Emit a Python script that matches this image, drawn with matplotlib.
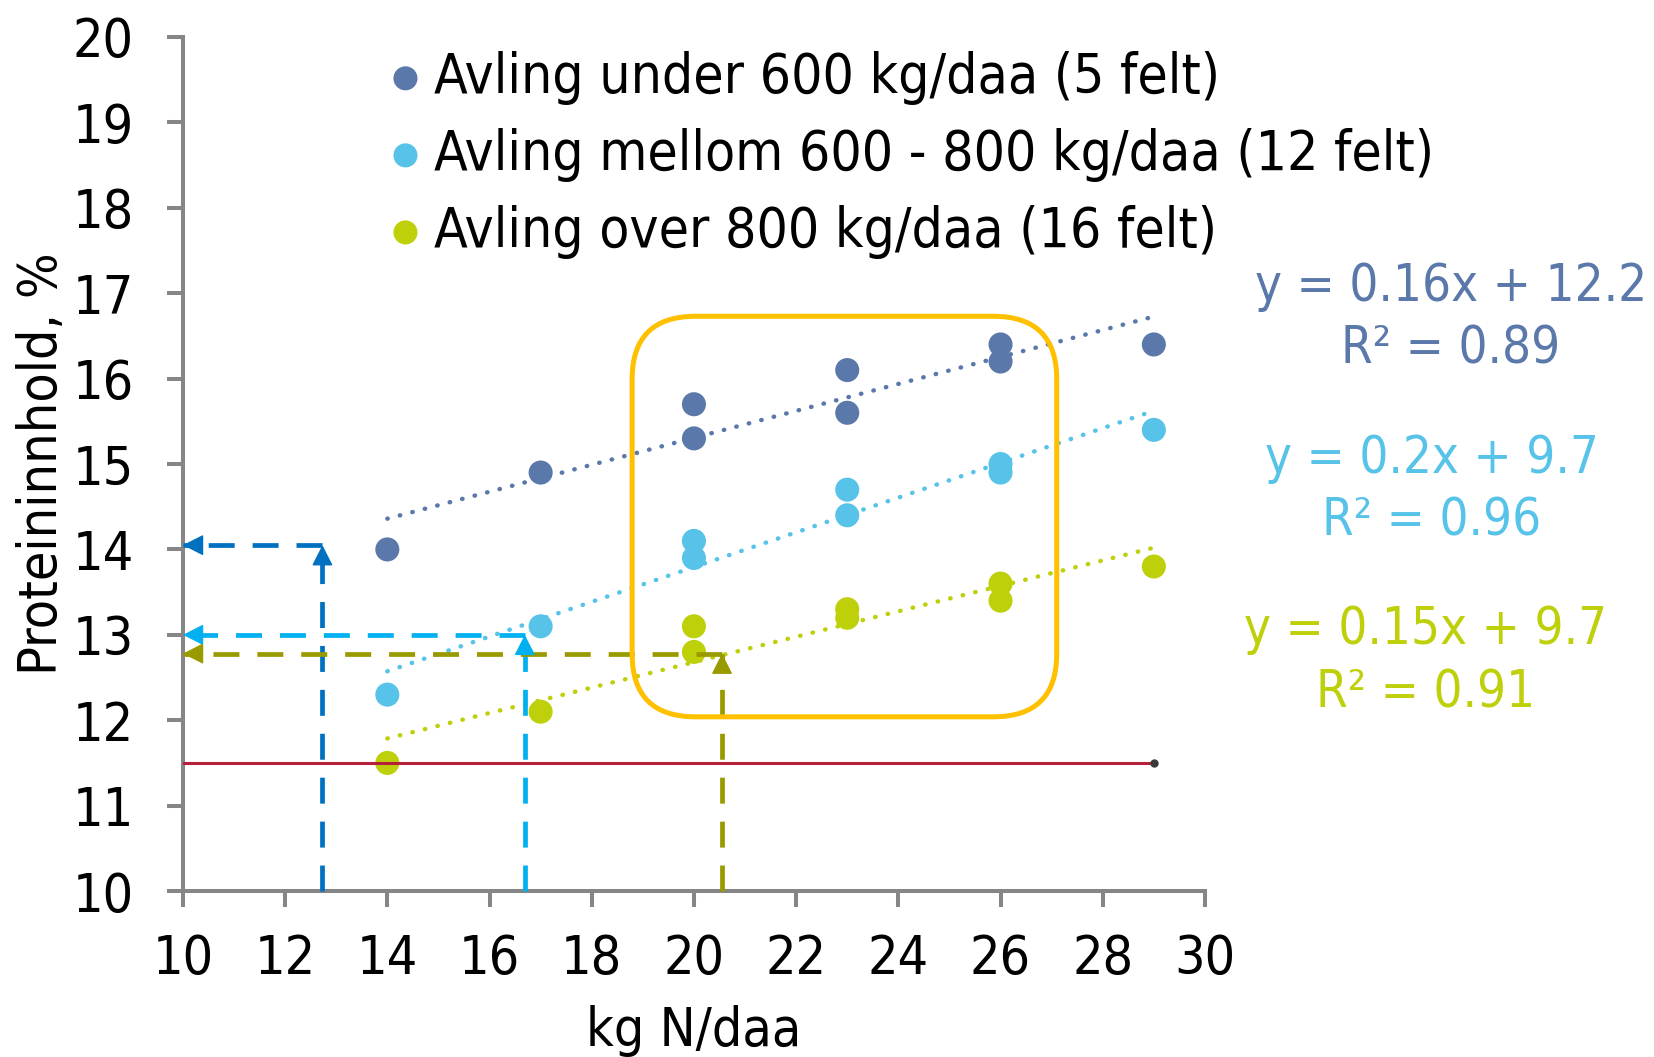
import numpy as np
import matplotlib
matplotlib.use('Agg')
import matplotlib.pyplot as plt
from matplotlib import font_manager
from matplotlib.patches import FancyBboxPatch


# N fertiliser (kg N/daa) and protein content (%) per yield group
x_n = np.array([14, 17, 20, 20, 23, 23, 26, 26, 29])
y_low = np.array([14.0, 14.9, 15.7, 15.3, 16.1, 15.6, 16.4, 16.2, 16.4])
y_mid = np.array([12.3, 13.1, 14.1, 13.9, 14.7, 14.4, 15.0, 14.9, 15.4])
y_high = np.array([11.5, 12.1, 13.1, 12.8, 13.3, 13.2, 13.6, 13.4, 13.8])

labels = ['Avling under 600 kg/daa (5 felt)',
          'Avling mellom 600 - 800 kg/daa (12 felt)',
          'Avling over 800 kg/daa (16 felt)']
equations = ['y = 0.16x + 12.2\nR\u00b2 = 0.89',
             'y = 0.2x + 9.7\nR\u00b2 = 0.96',
             'y = 0.15x + 9.7\nR\u00b2 = 0.91']

# protein limit line
limit_y = 11.5
limit_x = [10, 29]

# read-off arrows: N need for given protein target
arrow_x = [12.73, 16.69, 20.55]
arrow_y = [14.05, 13.0, 12.78]

# highlighted region (x0, x1, y0, y1)
box_x = [18.79, 27.1]
box_y = [12.04, 16.73]

colors = ['#5B78AB', '#57C3E8', '#BED00A']
arrow_colors = ['#0070C0', '#00B0F0', '#999900']


def pick_font():
    # use condensed DejaVu if it exists, it is closest to the original
    for f in font_manager.fontManager.ttflist:
        if f.name == 'DejaVu Sans' and 'ondensed' in str(f.stretch) + f.fname:
            return 'DejaVu Sans', 'condensed', 38.5
    return 'Liberation Sans', 'normal', 39


family, stretch, fs = pick_font()
plt.rcParams['font.family'] = [family, 'DejaVu Sans']
plt.rcParams['font.stretch'] = stretch

fig = plt.figure(figsize=(16.54, 10.57), dpi=100)
ax = fig.add_axes([0.1106, 0.157, 0.6179, 0.808])

series = [y_low, y_mid, y_high]
for y, c, lab in zip(series, colors, labels):
    ax.scatter(x_n, y, s=300, color=c, edgecolors='none', label=lab, zorder=3)

for y, c in zip(series, colors):
    k, m = np.polyfit(x_n, y, 1)
    xs = np.array([x_n.min(), x_n.max()])
    ax.plot(xs, k * xs + m, color=c, lw=3.2, dashes=(0.1, 2.8),
            dash_capstyle='round', zorder=4)

ax.plot(limit_x, [limit_y, limit_y], color='#B5213A', lw=2.2, zorder=4)
ax.plot(limit_x[-1], limit_y, 'o', color='#3A3A3A', ms=5, zorder=5)

for xa, ya, c in zip(arrow_x, arrow_y, arrow_colors):
    ax.plot([xa, xa], [10, ya], color=c, lw=3.4, dashes=(5.5, 3.8), zorder=6,
            clip_on=False)
    ax.plot([xa, 10], [ya, ya], color=c, lw=3.4, dashes=(5.5, 3.8), zorder=6,
            clip_on=False)
    head = dict(arrowstyle='-|>,head_length=0.65,head_width=0.33', color=c,
                lw=1, shrinkA=0, shrinkB=0, mutation_scale=20)
    ax.annotate('', xy=(xa, ya), xytext=(0, -14), textcoords='offset points',
                arrowprops=head, zorder=7)
    ax.annotate('', xy=(10, ya), xytext=(14, 0), textcoords='offset points',
                arrowprops=head, zorder=7)

box = FancyBboxPatch((box_x[0], box_y[0]), box_x[1] - box_x[0],
                     box_y[1] - box_y[0],
                     boxstyle='round,pad=0,rounding_size=1.24',
                     mutation_aspect=0.596, fill=False, ec='#FFC000', lw=3.6,
                     zorder=8, transform=ax.transData)
ax.add_patch(box)

ax.set_xlim(10, 30)
ax.set_ylim(10, 20)
ax.set_xticks(np.arange(10, 31, 2))
ax.set_yticks(np.arange(10, 21, 1))
for s in ['top', 'right']:
    ax.spines[s].set_visible(False)
for s in ['left', 'bottom']:
    ax.spines[s].set_color('#868686')
    ax.spines[s].set_linewidth(2.9)
ax.tick_params(axis='both', direction='out', length=11.5, width=2.9,
               color='#868686', labelsize=fs)
ax.tick_params(axis='y', pad=24)
ax.tick_params(axis='x', pad=19)
ax.set_xlabel('kg N/daa', fontsize=fs, labelpad=14)
ax.set_ylabel('Proteininnhold, %', fontsize=fs, labelpad=3)

ax.legend(loc='upper left', bbox_to_anchor=(0.2352, 0.952),
          bbox_transform=fig.transFigure, frameon=False, fontsize=fs + 1,
          scatterpoints=1, handlelength=0.6, handletextpad=0.22,
          labelspacing=0.42, borderpad=0, borderaxespad=0, markerscale=1.0)

# trend line equations
eq_pos = [(0.8773, 0.699), (0.8658, 0.536), (0.8621, 0.374)]
for (px, py), txt, c in zip(eq_pos, equations, colors):
    fig.text(px, py, txt, color=c, fontsize=fs - 2, ha='center', va='center',
             multialignment='center', linespacing=1.33)

fig.savefig('out.png', dpi=100)
